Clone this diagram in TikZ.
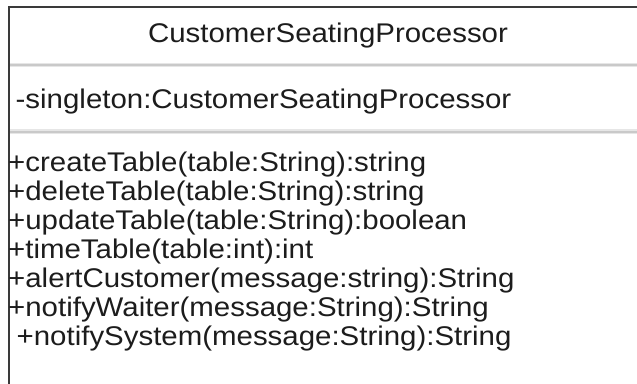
\documentclass[tikz,border=0pt]{standalone}
\usepackage{fontspec}
\setmainfont{Liberation Sans}[FakeStretch=1.09]
\definecolor{umlborder}{HTML}{3A3A3A}
\definecolor{umlsep}{HTML}{C9C9C9}
\definecolor{umlsepsoft}{HTML}{E6E6E6}
\definecolor{umltext}{HTML}{1C1C1C}
\begin{document}
\begin{tikzpicture}[x=1bp,y=-1bp,
  umltext/.style={inner sep=0pt,text=umltext,font=\fontsize{27bp}{30bp}\selectfont},
  member/.style={umltext,anchor=base west},
  border/.style={draw=umlborder,line width=2.2bp},
  separator/.style={draw=umlsep,line width=2bp},
  separatorsoft/.style={draw=umlsepsoft,line width=4.5bp}]
  \useasboundingbox (0,0) rectangle (637,383);
  \fill[white] (0,0) rectangle (637,383);

  % class frame, open to the right and below
  \coordinate (tl) at (9,7);
  \coordinate (tr) at (640,7);
  \coordinate (bl) at (9,386);

  % compartment separators
  \coordinate (s1l) at (9,65);
  \coordinate (s1r) at (640,65);
  \coordinate (s2l) at (9,131.5);
  \coordinate (s2r) at (640,131.5);
  \draw[separatorsoft] (s1l) -- (s1r);
  \draw[separatorsoft] (s2l) -- (s2r);
  \draw[separator] (s1l) -- (s1r);
  \draw[separator] (s2l) -- (s2r);
  \draw[border] (bl) -- (tl) -- (tr);

  % class name
  \node[umltext,anchor=base] (name) at (328,42) {CustomerSeatingProcessor};

  % attributes
  \node[member] (attr) at (15.5,108) {-singleton:CustomerSeatingProcessor};

  % operations
  \node[member] (op1) at (8,171) {+createTable(table:String):string};
  \node[member] (op2) at (8,200) {+deleteTable(table:String):string};
  \node[member] (op3) at (8,229) {+updateTable(table:String):boolean};
  \node[member] (op4) at (8,258) {+timeTable(table:int):int};
  \node[member] (op5) at (8,287) {+alertCustomer(message:string):String};
  \node[member] (op6) at (8,316) {+notifyWaiter(message:String):String};
  \node[member] (op7) at (16.5,345) {+notifySystem(message:String):String};
\end{tikzpicture}
\end{document}
